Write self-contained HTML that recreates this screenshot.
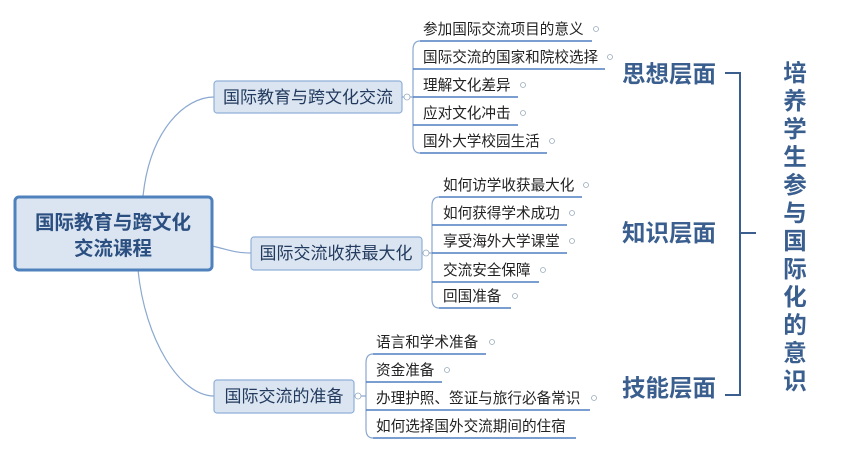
<!DOCTYPE html>
<html><head><meta charset="utf-8"><style>
html,body{margin:0;padding:0;background:#fff;}
svg{display:block;font-family:"Liberation Sans","Noto Sans CJK SC",sans-serif;}
.leaf{font-size:14.6px;fill:#222;}
.br{font-size:17px;fill:#223a5e;}
.ln{stroke:#4f7fbf;stroke-width:1.5;fill:none;}
.cn{stroke:#8aa8d0;stroke-width:1.2;fill:none;}
.dot{fill:#fff;stroke:#9ab;stroke-width:0.8;}
.big{font-size:23.5px;font-weight:bold;fill:#3a5f8f;}
</style></head><body>
<svg width="842" height="452" viewBox="0 0 842 452">
<path class="cn" d="M143,196 C150,130 185,97 214,97"/>
<path class="cn" d="M212,246 C230,250 235,253 251,253"/>
<path class="cn" d="M138,270 C145,340 180,396 214,396"/>
<rect x="15" y="197" width="197" height="73" rx="4" fill="#dbe5f1" stroke="#4f81bd" stroke-width="3"/>
<text x="113" y="229" text-anchor="middle" font-size="19.5" font-weight="bold" fill="#2b4f80">国际教育与跨文化</text>
<text x="113" y="255" text-anchor="middle" font-size="19.5" font-weight="bold" fill="#2b4f80">交流课程</text>
<rect x="214" y="81" width="188" height="32" rx="3" fill="#dbe5f1" stroke="#8fb0d8" stroke-width="1.2"/>
<text x="308" y="103" text-anchor="middle" class="br">国际教育与跨文化交流</text>
<rect x="251" y="237" width="171" height="33" rx="3" fill="#dbe5f1" stroke="#8fb0d8" stroke-width="1.2"/>
<text x="336" y="259" text-anchor="middle" class="br">国际交流收获最大化</text>
<rect x="214" y="380" width="140" height="33" rx="3" fill="#dbe5f1" stroke="#8fb0d8" stroke-width="1.2"/>
<text x="284" y="402" text-anchor="middle" class="br">国际交流的准备</text>
<path class="cn" d="M402,97 H413 M420,41 Q413,41 413,50 V144 Q413,153 420,153"/>
<circle cx="407" cy="97" r="3" class="dot"/>
<g class="ln"><path d="M420,41H592M413,69H605M413,97H518M413,125H518M420,153H547"/></g>
<g class="leaf">
<text x="423" y="34">参加国际交流项目的意义</text>
<text x="423" y="62">国际交流的国家和院校选择</text>
<text x="423" y="90">理解文化差异</text>
<text x="423" y="118">应对文化冲击</text>
<text x="423" y="146">国外大学校园生活</text>
</g>
<g><circle cx="596" cy="29" r="2.5" class="dot"/><circle cx="610" cy="57" r="2.5" class="dot"/><circle cx="523" cy="85" r="2.5" class="dot"/><circle cx="523" cy="113" r="2.5" class="dot"/><circle cx="552" cy="141" r="2.5" class="dot"/></g>
<path class="cn" d="M422,253 H432 M439,197 Q432,197 432,206 V299 Q432,308 439,308"/>
<circle cx="426" cy="253" r="3" class="dot"/>
<g class="ln"><path d="M439,197H582M432,225H567M432,253H567M432,282H539M439,308H511"/></g>
<g class="leaf">
<text x="443" y="190">如何访学收获最大化</text>
<text x="443" y="218">如何获得学术成功</text>
<text x="443" y="246">享受海外大学课堂</text>
<text x="443" y="275">交流安全保障</text>
<text x="443" y="301">回国准备</text>
</g>
<g><circle cx="586" cy="185" r="2.5" class="dot"/><circle cx="572" cy="213" r="2.5" class="dot"/><circle cx="572" cy="241" r="2.5" class="dot"/><circle cx="543" cy="270" r="2.5" class="dot"/><circle cx="515" cy="296" r="2.5" class="dot"/></g>
<path class="cn" d="M354,396 H366 M373,354 Q366,354 366,363 V429 Q366,438 373,438"/>
<circle cx="358" cy="396" r="3" class="dot"/>
<g class="ln"><path d="M373,354H486M366,382H442M366,410H590M373,438H576"/></g>
<g class="leaf">
<text x="376" y="347">语言和学术准备</text>
<text x="376" y="375">资金准备</text>
<text x="376" y="403">办理护照、签证与旅行必备常识</text>
<text x="376" y="431">如何选择国外交流期间的住宿</text>
</g>
<g><circle cx="492" cy="342" r="2.5" class="dot"/><circle cx="447" cy="370" r="2.5" class="dot"/><circle cx="594" cy="398" r="2.5" class="dot"/></g>
<text x="622" y="82" class="big">思想层面</text>
<text x="622" y="241" class="big">知识层面</text>
<text x="622" y="396" class="big">技能层面</text>
<path d="M725,73 H740 V395 H725 M740,233 H756" stroke="#3a5f8f" stroke-width="2" fill="none"/>
<g font-size="23.5" font-weight="bold" fill="#3a5f8f" text-anchor="middle">
<text x="795" y="81">培</text><text x="795" y="109">养</text><text x="795" y="137">学</text><text x="795" y="165">生</text>
<text x="795" y="193">参</text><text x="795" y="221">与</text><text x="795" y="249">国</text><text x="795" y="277">际</text>
<text x="795" y="305">化</text><text x="795" y="333">的</text><text x="795" y="361">意</text><text x="795" y="389">识</text>
</g>
</svg>
</body></html>
